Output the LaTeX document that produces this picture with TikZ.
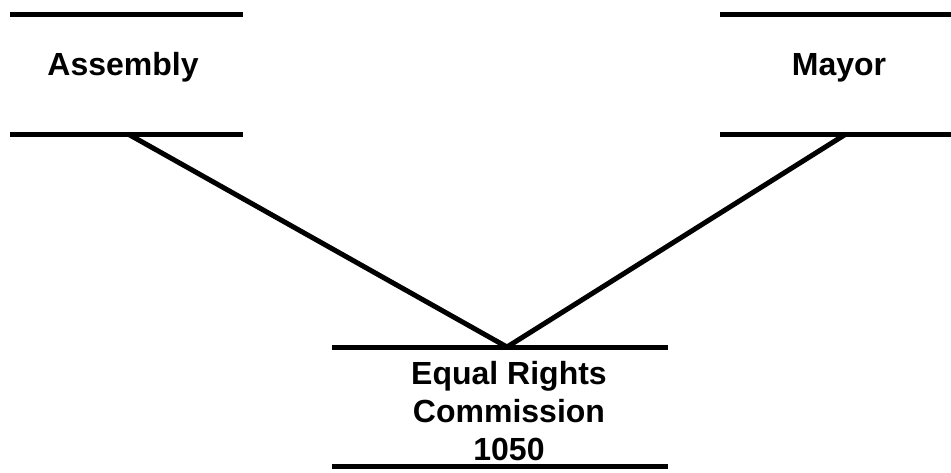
\documentclass[tikz,border=0pt]{standalone}
\usepackage{fontspec}
\setmainfont{Liberation Sans}
\begin{document}
\begin{tikzpicture}[x=1pt, y=-1pt,
  office/.style={font=\fontsize{32}{38.4}\selectfont\bfseries, inner sep=0pt, align=center},
  rule/.style={line width=5pt},
  link/.style={line width=5pt}]
\useasboundingbox (0,0) rectangle (951,472);
\draw[rule] (10,14) -- (243,14);
\draw[rule] (10,134) -- (243,134);
\draw[rule] (720,14) -- (951,14);
\draw[rule] (720,134) -- (951,134);
\draw[rule] (332,347) -- (668,347);
\draw[rule] (332,466) -- (668,466);
\node[office, anchor=base] (assembly) at (123,75) {Assembly};
\node[office, anchor=base] (mayor) at (839,75) {Mayor};
\node[office] (erc) at (509,411) {Equal Rights\\Commission\\1050};
\coordinate (assemblyfoot) at (128,134);
\coordinate (mayorfoot) at (846,134);
\coordinate (erctop) at (507,347);
\draw[link] (assemblyfoot) -- (erctop);
\draw[link] (mayorfoot) -- (erctop);
\end{tikzpicture}
\end{document}
